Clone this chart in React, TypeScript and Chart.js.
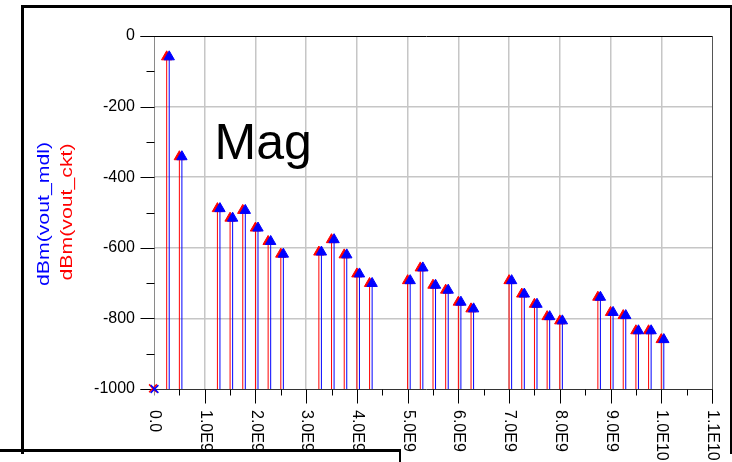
import { useEffect, useRef } from 'react';
import { Chart, registerables } from 'chart.js';

Chart.register(...registerables);

// Spectral lines: frequency (Hz) and level (dBm) of the circuit and model outputs
const freqCkt = [0.25e9, 0.5e9, 1.25e9, 1.5e9, 1.75e9, 2.0e9, 2.25e9, 2.5e9, 3.25e9, 3.5e9, 3.75e9, 4.0e9, 4.25e9, 5.0e9, 5.25e9, 5.5e9, 5.75e9, 6.0e9, 6.25e9, 7.0e9, 7.25e9, 7.5e9, 7.75e9, 8.0e9, 8.75e9, 9.0e9, 9.25e9, 9.5e9, 9.75e9, 10.0e9];
const freqMdl = [0.3e9, 0.55e9, 1.3e9, 1.55e9, 1.8e9, 2.05e9, 2.3e9, 2.55e9, 3.3e9, 3.55e9, 3.8e9, 4.05e9, 4.3e9, 5.05e9, 5.3e9, 5.55e9, 5.8e9, 6.05e9, 6.3e9, 7.05e9, 7.3e9, 7.55e9, 7.8e9, 8.05e9, 8.8e9, 9.05e9, 9.3e9, 9.55e9, 9.8e9, 10.05e9];
const dbmCkt = [-59, -342, -489, -516, -494, -544, -582, -618, -612, -577, -620, -674, -701, -693, -657, -706, -720, -754, -773, -693, -731, -760, -795, -807, -740, -783, -792, -835, -835, -860];
const dbmMdl = [-59, -342, -489, -516, -494, -544, -582, -618, -612, -577, -620, -674, -701, -693, -657, -706, -720, -754, -773, -693, -731, -760, -795, -807, -740, -783, -792, -835, -835, -860];

// DC term (0 Hz), clipped at the floor of the plot
const dcFreq = [0];
const dcCkt = [-1000];
const dcMdl = [-1000];

// Axes
const xMin = 0;
const xMax = 1.1e10;
const yMin = -1000;
const yMax = 0;
const xMajorTicks = [0, 1e9, 2e9, 3e9, 4e9, 5e9, 6e9, 7e9, 8e9, 9e9, 1e10, 1.1e10];
const xTickLabels = ['0.0', '1.0E9', '2.0E9', '3.0E9', '4.0E9', '5.0E9', '6.0E9', '7.0E9', '8.0E9', '9.0E9', '1.0E10', '1.1E10'];
const xMinorTicks = [0.5e9, 1.5e9, 2.5e9, 3.5e9, 4.5e9, 5.5e9, 6.5e9, 7.5e9, 8.5e9, 9.5e9, 10.5e9];
const yMajorTicks = [0, -200, -400, -600, -800, -1000];
const yMinorTicks = [-100, -300, -500, -700, -900];

const RED = '#ff0000';
const BLUE = '#0000ff';
const FONT = "'Liberation Sans', Arial, sans-serif";

type StemPoint = { x: number; y: number | null; top?: boolean };

// Each spectral line becomes a vertical segment from the floor to its level,
// separated from the next one by a gap.
function stems(freqs: number[], levels: number[]): StemPoint[] {
  const pts: StemPoint[] = [];
  freqs.forEach((f, i) => {
    pts.push({ x: f, y: yMin });
    pts.push({ x: f, y: levels[i], top: true });
    pts.push({ x: f, y: null });
  });
  return pts;
}

const axisPlugin = {
  id: 'magAxes',
  beforeDatasetsDraw(chart: any) {
    const { ctx } = chart;
    const xs = chart.scales.x;
    const ys = chart.scales.y;
    const al = (v: number) => Math.round(v) + 0.5;
    const left = al(xs.getPixelForValue(xMin));
    const right = al(xs.getPixelForValue(xMax));
    const top = al(ys.getPixelForValue(yMax));
    const bottom = al(ys.getPixelForValue(yMin));
    const seg = (ax: number, ay: number, bx: number, by: number, color: string) => {
      ctx.beginPath();
      ctx.strokeStyle = color;
      ctx.lineWidth = 1;
      ctx.moveTo(ax, ay);
      ctx.lineTo(bx, by);
      ctx.stroke();
    };
    ctx.save();
    // frame of the plot area
    seg(left, top, left, bottom + 6, '#8a8a8a');
    seg(right, top, right, bottom + 14, '#555555');
    seg(left - 14, top, right, top, '#000000');
    seg(left - 14, bottom, right, bottom, '#333333');
    // y ticks
    yMajorTicks.forEach((v) => {
      const py = al(ys.getPixelForValue(v));
      seg(left - 14, py, left, py, '#000000');
    });
    yMinorTicks.forEach((v) => {
      const py = al(ys.getPixelForValue(v));
      seg(left - 8, py, left, py, '#000000');
    });
    // x ticks
    xMajorTicks.forEach((v) => {
      if (v === xMin) return;
      const px = al(xs.getPixelForValue(v));
      seg(px, bottom, px, bottom + 14, '#000000');
    });
    xMinorTicks.forEach((v) => {
      const px = al(xs.getPixelForValue(v));
      seg(px, bottom, px, bottom + 6, '#000000');
    });
    ctx.restore();
  },
  afterDraw(chart: any) {
    const { ctx } = chart;
    const xs = chart.scales.x;
    const ys = chart.scales.y;
    const bottom = ys.getPixelForValue(yMin);
    ctx.save();
    ctx.fillStyle = '#000000';
    ctx.font = `16px ${FONT}`;
    ctx.textAlign = 'left';
    ctx.textBaseline = 'middle';
    // frequency labels, rotated to read downwards
    xMajorTicks.forEach((v, i) => {
      const px = xs.getPixelForValue(v);
      ctx.save();
      ctx.translate(px + 0.5, bottom + 21);
      ctx.rotate(Math.PI / 2);
      ctx.fillText(xTickLabels[i], 0, 0);
      ctx.restore();
    });
    // stacked y-axis titles
    const title = (text: string, color: string, cx: number, cy: number) => {
      ctx.save();
      ctx.fillStyle = color;
      ctx.font = `17px ${FONT}`;
      ctx.textAlign = 'center';
      ctx.textBaseline = 'middle';
      ctx.translate(cx, cy);
      ctx.rotate(-Math.PI / 2);
      ctx.scale(1.25, 1);
      ctx.fillText(text, 0, 0);
      ctx.restore();
    };
    title('dBm(vout_mdl)', BLUE, 44, 214);
    title('dBm(vout_ckt)', RED, 67, 212);
    // plot caption
    ctx.fillStyle = '#000000';
    ctx.font = `50px ${FONT}`;
    ctx.textAlign = 'left';
    ctx.textBaseline = 'alphabetic';
    ctx.fillText('Mag', 214.5, 158.5);
    ctx.restore();
  },
};

export default function App() {
  const canvasRef = useRef<HTMLCanvasElement | null>(null);

  useEffect(() => {
    const canvas = canvasRef.current;
    if (!canvas) return;
    Chart.defaults.font.family = FONT;

    const stemRadius = (c: any) => (c.raw && c.raw.top ? 6 : 0);

    const chart = new Chart(canvas, {
      type: 'scatter',
      data: {
        datasets: [
          {
            label: 'dBm(vout_mdl) DC',
            data: dcFreq.map((f, i) => ({ x: f + 0.01e9, y: dcMdl[i] })),
            pointStyle: 'crossRot',
            pointRadius: 5.5,
            borderColor: BLUE,
            backgroundColor: BLUE,
            pointBorderWidth: 1.5,
            showLine: false,
          },
          {
            label: 'dBm(vout_ckt) DC',
            data: dcFreq.map((f, i) => ({ x: f - 0.02e9, y: dcCkt[i] + 2 })),
            pointStyle: 'crossRot',
            pointRadius: 5.5,
            borderColor: RED,
            backgroundColor: RED,
            pointBorderWidth: 1.5,
            showLine: false,
          },
          {
            label: 'dBm(vout_mdl)',
            data: stems(freqMdl, dbmMdl) as any,
            showLine: true,
            spanGaps: false,
            borderColor: BLUE,
            borderWidth: 1,
            pointStyle: 'triangle',
            pointRadius: stemRadius,
            pointBackgroundColor: BLUE,
            pointBorderColor: BLUE,
            pointBorderWidth: 1,
          },
          {
            label: 'dBm(vout_ckt)',
            data: stems(freqCkt, dbmCkt) as any,
            showLine: true,
            spanGaps: false,
            borderColor: RED,
            borderWidth: 1,
            pointStyle: 'triangle',
            pointRadius: stemRadius,
            pointBackgroundColor: RED,
            pointBorderColor: RED,
            pointBorderWidth: 1,
          },
        ],
      },
      options: {
        responsive: false,
        animation: false,
        devicePixelRatio: 1,
        clip: false as any,
        layout: { padding: { left: 80, right: 20, top: 36, bottom: 53 } },
        plugins: {
          legend: { display: false },
          tooltip: { enabled: false },
          title: { display: false },
        },
        events: [],
        scales: {
          x: {
            type: 'linear',
            min: xMin,
            max: xMax,
            afterBuildTicks: (s: any) => {
              s.ticks = xMajorTicks.map((v) => ({ value: v }));
            },
            afterFit: (s: any) => {
              s.height = 20;
            },
            ticks: { display: false },
            border: { display: false },
            grid: {
              drawTicks: false,
              lineWidth: 1.5,
              color: (c: any) =>
                c.tick && (c.tick.value === xMin || c.tick.value === xMax) ? 'rgba(0,0,0,0)' : '#c6c6c6',
            },
          },
          y: {
            type: 'linear',
            min: yMin,
            max: yMax,
            afterBuildTicks: (s: any) => {
              s.ticks = yMajorTicks.map((v) => ({ value: v }));
            },
            afterFit: (s: any) => {
              s.width = 74;
            },
            ticks: {
              color: '#000000',
              font: { size: 16, family: FONT },
              padding: 19,
              callback: (v: any) => String(v),
            },
            border: { display: false },
            grid: {
              drawTicks: false,
              lineWidth: 1.5,
              color: (c: any) =>
                c.tick && (c.tick.value === yMin || c.tick.value === yMax) ? 'rgba(0,0,0,0)' : '#c6c6c6',
            },
          },
        },
      },
      plugins: [axisPlugin],
    });

    return () => chart.destroy();
  }, []);

  return (
    <div style={{ position: 'fixed', left: 0, top: 0, width: 732, height: 462, background: '#ffffff', overflow: 'hidden' }}>
      <canvas ref={canvasRef} width={732} height={462} style={{ position: 'absolute', left: 0, top: 0 }} />
      {/* window frame around the plot */}
      <div
        style={{
          position: 'absolute',
          left: 21,
          top: 5,
          width: 706,
          height: 446,
          borderTop: '3px solid #000',
          borderLeft: '3px solid #000',
          borderRight: '2px solid #000',
          pointerEvents: 'none',
        }}
      />
      {/* neighbouring panel below */}
      <div
        style={{
          position: 'absolute',
          left: -10,
          top: 449,
          width: 409,
          height: 30,
          borderTop: '3px solid #000',
          borderRight: '2px solid #000',
          pointerEvents: 'none',
        }}
      />
    </div>
  );
}
